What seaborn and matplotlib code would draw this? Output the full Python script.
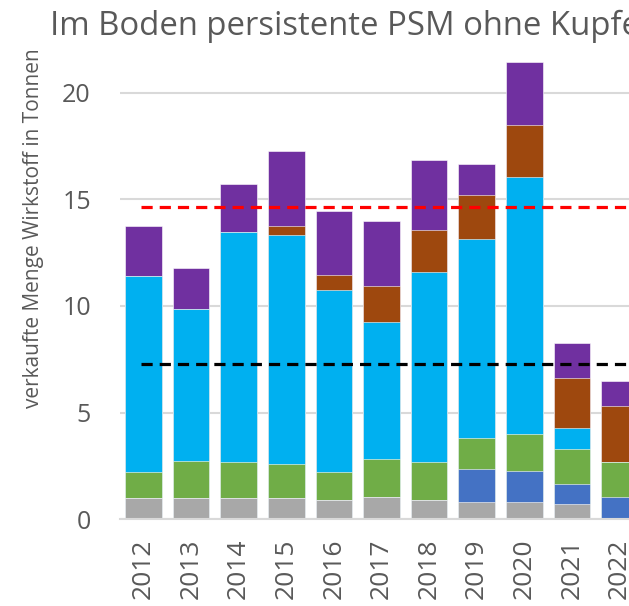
import pandas as pd
import matplotlib.pyplot as plt
import seaborn as sns
import numpy as np

# ── Data (tonnes) ──────────────────────────────────────
years = ["2012", "2013", "2014", "2015", "2016", "2017",
         "2018", "2019", "2020", "2021", "2022"]
seg_gray   = [1.00, 1.00, 1.00, 1.00, 0.89, 1.04, 0.89, 0.83, 0.83, 0.72, 0.00]
seg_blue   = [0.00, 0.00, 0.00, 0.00, 0.00, 0.00, 0.00, 1.53, 1.43, 0.95, 1.06]
seg_green  = [1.22, 1.75, 1.69, 1.58, 1.33, 1.77, 1.80, 1.46, 1.74, 1.61, 1.63]
seg_cyan   = [9.20, 7.11, 10.76, 10.75, 8.53, 6.45, 8.91, 9.33, 12.06, 1.01, 0.00]
seg_brown  = [0.00, 0.00, 0.00, 0.42, 0.72, 1.68, 1.95, 2.04, 2.44, 2.35, 2.62]
seg_purple = [2.32, 1.91, 2.27, 3.53, 3.00, 3.04, 3.30, 1.46, 2.92, 1.61, 1.19]
mean_red = 14.62
mean_black = 7.27

segments = [seg_gray, seg_blue, seg_green, seg_cyan, seg_brown, seg_purple]
colors = ["#A8A8A8", "#4472C4", "#70AD47", "#00B0F0", "#9E480E", "#7030A0"]

# cumulative tops, drawn tallest first so lower layers sit on top
cum = np.cumsum(np.array(segments), axis=0)
df = pd.DataFrame(cum.T, columns=[f"s{i}" for i in range(6)])
df["Jahr"] = years

sns.set_theme(style="white")
plt.rcParams["font.family"] = ["Open Sans", "DejaVu Sans"]
txt = "#595959"

fig = plt.figure(figsize=(6.29, 6.06), dpi=100)
ax = fig.add_axes([0.1908, 0.1431, 0.8092, 0.7744])

for i in range(5, -1, -1):
    sns.barplot(data=df, x="Jahr", y=f"s{i}", color=colors[i], width=0.77,
                saturation=1, edgecolor="white", linewidth=0.4, ax=ax)

ax.set_ylim(0, 22)
ax.set_xlim(-0.494, 10.2)
ax.set_yticks([0, 5, 10, 15, 20])
ax.yaxis.grid(True, color="#D9D9D9", linewidth=1.5)
ax.set_axisbelow(True)
for s in ["top", "right", "left"]:
    ax.spines[s].set_visible(False)
ax.spines["bottom"].set_color("#D9D9D9")
ax.spines["bottom"].set_linewidth(1.5)

ax.plot([-0.05, 11], [mean_red, mean_red], color="#FF0000",
        linewidth=2.3, dashes=(3.5, 2.2), zorder=5)
ax.plot([-0.05, 11], [mean_black, mean_black], color="black",
        linewidth=2.3, dashes=(3.5, 2.2), zorder=5)

ax.tick_params(axis="y", length=0, labelsize=18, colors=txt, pad=21)
ax.tick_params(axis="x", length=0, labelsize=19, colors=txt, pad=14)
plt.setp(ax.get_xticklabels(), rotation=90)
ax.set_xlabel("")
ax.set_ylabel("verkaufte Menge Wirkstoff in Tonnen", fontsize=15, color=txt)
ax.yaxis.set_label_coords(-0.150, 0.62)
fig.text(0.079, 0.943, "Im Boden persistente PSM ohne Kupfer", fontsize=23.7,
         color=txt, ha="left", va="baseline")

plt.savefig("out.png", dpi=100)
plt.close()
